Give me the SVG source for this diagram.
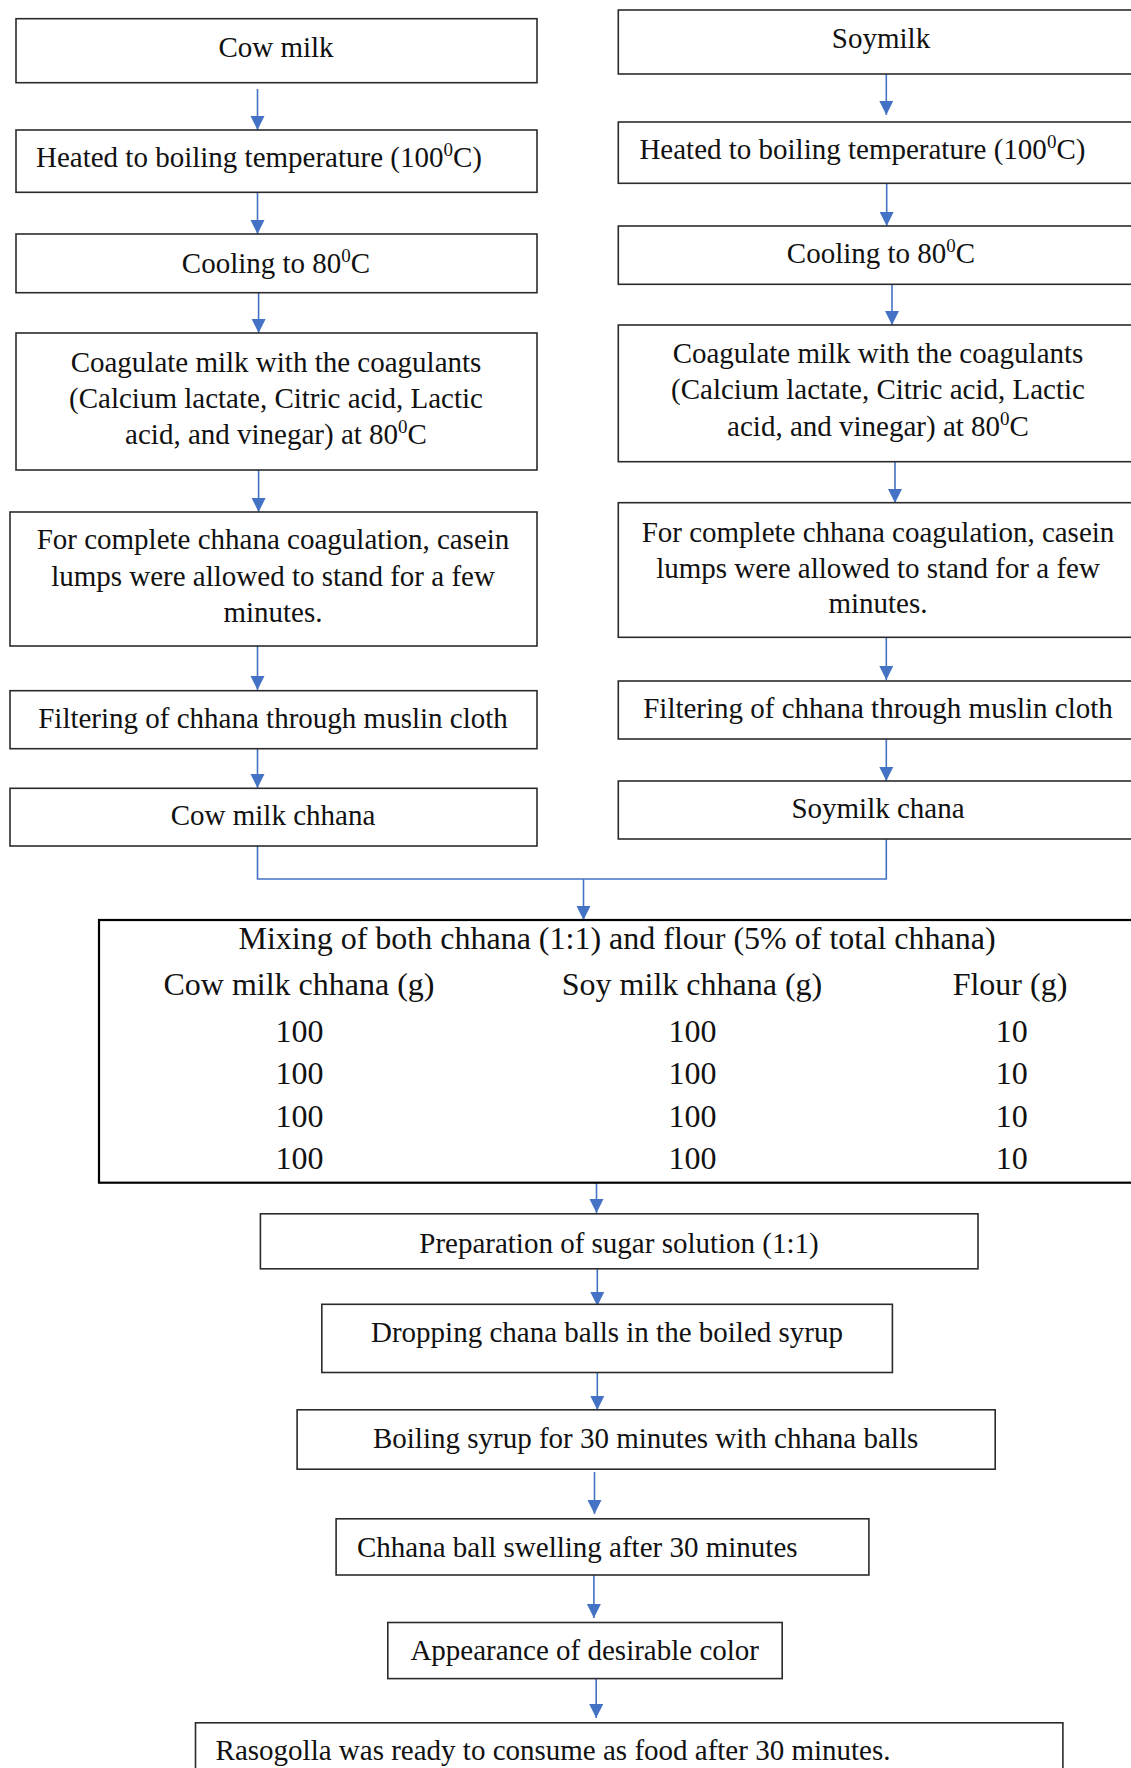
<svg xmlns="http://www.w3.org/2000/svg" width="1131" height="1768" viewBox="0 0 1131 1768">
<style>
.box{fill:#fff;stroke:#2b2b2b;stroke-width:1.6}
.tbl{fill:#fff;stroke:#000;stroke-width:2.2}
text{font-family:"Liberation Serif","Times New Roman",serif;font-size:29px;fill:#111}
.c{text-anchor:middle}
.t32{font-size:32px}
.con{fill:none;stroke:#4472C4;stroke-width:1.6}
</style>
<defs>
<marker id="ah" markerUnits="userSpaceOnUse" markerWidth="16" markerHeight="16" refX="14" refY="7" orient="auto">
<path d="M0,0 L14,7 L0,14 z" fill="#4472C4"/>
</marker>
</defs>
<rect width="1131" height="1768" fill="#fff"/>

<g id="connectors">
<line class="con" x1="257.5" y1="89" x2="257.5" y2="130" marker-end="url(#ah)"/>
<line class="con" x1="257.5" y1="192" x2="257.5" y2="234" marker-end="url(#ah)"/>
<line class="con" x1="258.6" y1="293" x2="258.6" y2="333" marker-end="url(#ah)"/>
<line class="con" x1="258.6" y1="470" x2="258.6" y2="512" marker-end="url(#ah)"/>
<line class="con" x1="257.5" y1="646" x2="257.5" y2="690" marker-end="url(#ah)"/>
<line class="con" x1="257.5" y1="749" x2="257.5" y2="788" marker-end="url(#ah)"/>
<line class="con" x1="886.3" y1="74" x2="886.3" y2="115" marker-end="url(#ah)"/>
<line class="con" x1="886.7" y1="183" x2="886.7" y2="226" marker-end="url(#ah)"/>
<line class="con" x1="892" y1="284" x2="892" y2="325" marker-end="url(#ah)"/>
<line class="con" x1="895" y1="462" x2="895" y2="503" marker-end="url(#ah)"/>
<line class="con" x1="886.3" y1="637" x2="886.3" y2="680" marker-end="url(#ah)"/>
<line class="con" x1="886.3" y1="739" x2="886.3" y2="781" marker-end="url(#ah)"/>
<polyline class="con" points="257.5,846 257.5,879 886.3,879 886.3,839"/>
<line class="con" x1="583.5" y1="879" x2="583.5" y2="920" marker-end="url(#ah)"/>
<line class="con" x1="596.5" y1="1171" x2="596.5" y2="1213" marker-end="url(#ah)"/>
<line class="con" x1="597.3" y1="1269" x2="597.3" y2="1306" marker-end="url(#ah)"/>
<line class="con" x1="597.3" y1="1368" x2="597.3" y2="1410" marker-end="url(#ah)"/>
<line class="con" x1="594.5" y1="1472" x2="594.5" y2="1514" marker-end="url(#ah)"/>
<line class="con" x1="593.9" y1="1575" x2="593.9" y2="1618" marker-end="url(#ah)"/>
<line class="con" x1="596.2" y1="1679" x2="596.2" y2="1718" marker-end="url(#ah)"/>
</g>

<g id="cow-milk"><rect class="box" x="16" y="18.7" width="521" height="64"/><text class="c" x="276" y="57">Cow milk</text></g>
<g id="cow-heated"><rect class="box" x="16" y="130" width="521" height="62.3"/><text x="36" y="166.7">Heated to boiling temperature (100<tspan dy="-11" font-size="19">0</tspan><tspan dy="11">C)</tspan></text></g>
<g id="cow-cooling"><rect class="box" x="16" y="234" width="521" height="58.7"/><text class="c" x="276" y="272.7">Cooling to 80<tspan dy="-11" font-size="19">0</tspan><tspan dy="11">C</tspan></text></g>
<g id="cow-coagulate"><rect class="box" x="16" y="333" width="521" height="137"/>
<text class="c" x="276" y="371.7">Coagulate milk with the coagulants</text>
<text class="c" x="276" y="408.3">(Calcium lactate, Citric acid, Lactic</text>
<text class="c" x="276" y="444">acid, and vinegar) at 80<tspan dy="-11" font-size="19">0</tspan><tspan dy="11">C</tspan></text></g>
<g id="cow-stand"><rect class="box" x="10" y="512" width="527" height="134"/>
<text class="c" x="273" y="549.3">For complete chhana coagulation, casein</text>
<text class="c" x="273" y="586">lumps were allowed to stand for a few</text>
<text class="c" x="273" y="621.7">minutes.</text></g>
<g id="cow-filter"><rect class="box" x="10" y="690.7" width="527" height="58"/><text class="c" x="273" y="728.3">Filtering of chhana through muslin cloth</text></g>
<g id="cow-chhana"><rect class="box" x="10" y="788.3" width="527" height="57.7"/><text class="c" x="273" y="825">Cow milk chhana</text></g>

<g id="soymilk"><rect class="box" x="618.3" y="10" width="530" height="64"/><text class="c" x="881" y="48.3">Soymilk</text></g>
<g id="soy-heated"><rect class="box" x="618.3" y="122" width="530" height="61.3"/><text x="639.4" y="159.3">Heated to boiling temperature (100<tspan dy="-11" font-size="19">0</tspan><tspan dy="11">C)</tspan></text></g>
<g id="soy-cooling"><rect class="box" x="618.3" y="226" width="530" height="58.3"/><text class="c" x="881" y="263.3">Cooling to 80<tspan dy="-11" font-size="19">0</tspan><tspan dy="11">C</tspan></text></g>
<g id="soy-coagulate"><rect class="box" x="618.3" y="325" width="530" height="136.7"/>
<text class="c" x="878" y="362.7">Coagulate milk with the coagulants</text>
<text class="c" x="878" y="399.3">(Calcium lactate, Citric acid, Lactic</text>
<text class="c" x="878" y="436">acid, and vinegar) at 80<tspan dy="-11" font-size="19">0</tspan><tspan dy="11">C</tspan></text></g>
<g id="soy-stand"><rect class="box" x="618.3" y="502.7" width="530" height="134.6"/>
<text class="c" x="878" y="541.7">For complete chhana coagulation, casein</text>
<text class="c" x="878" y="578.3">lumps were allowed to stand for a few</text>
<text class="c" x="878" y="613.3">minutes.</text></g>
<g id="soy-filter"><rect class="box" x="618.3" y="681" width="530" height="58"/><text class="c" x="878" y="718.3">Filtering of chhana through muslin cloth</text></g>
<g id="soy-chhana"><rect class="box" x="618.3" y="781" width="530" height="58"/><text class="c" x="878" y="818.3">Soymilk chana</text></g>

<g id="mixing"><rect class="tbl" x="99" y="920" width="1060" height="262.7"/>
<text class="c t32" x="617" y="949.3">Mixing of both chhana (1:1) and flour (5% of total chhana)</text>
<text class="c t32" x="299" y="995">Cow milk chhana (g)</text>
<text class="c t32" x="692" y="995">Soy milk chhana (g)</text>
<text class="c t32" x="1010" y="995">Flour (g)</text>
<text class="c t32" x="299.5" y="1041.7">100</text><text class="c t32" x="692.6" y="1041.7">100</text><text class="c t32" x="1011.7" y="1041.7">10</text>
<text class="c t32" x="299.5" y="1084.3">100</text><text class="c t32" x="692.6" y="1084.3">100</text><text class="c t32" x="1011.7" y="1084.3">10</text>
<text class="c t32" x="299.5" y="1126.7">100</text><text class="c t32" x="692.6" y="1126.7">100</text><text class="c t32" x="1011.7" y="1126.7">10</text>
<text class="c t32" x="299.5" y="1169.3">100</text><text class="c t32" x="692.6" y="1169.3">100</text><text class="c t32" x="1011.7" y="1169.3">10</text>
</g>

<g id="sugar"><rect class="box" x="260.4" y="1213.8" width="717.6" height="55"/><text class="c" x="619" y="1252.5">Preparation of sugar solution (1:1)</text></g>
<g id="dropping"><rect class="box" x="321.8" y="1304.3" width="570.6" height="68.2"/><text class="c" x="607" y="1342">Dropping chana balls in the boiled syrup</text></g>
<g id="boiling"><rect class="box" x="297.1" y="1409.8" width="698.1" height="59.4"/><text class="c" x="645.6" y="1448.2">Boiling syrup for 30 minutes with chhana balls</text></g>
<g id="swelling"><rect class="box" x="336.1" y="1518.8" width="532.8" height="56.2"/><text x="357" y="1556.9">Chhana ball swelling after 30 minutes</text></g>
<g id="color"><rect class="box" x="387.8" y="1622.5" width="394.4" height="56.1"/><text class="c" x="584.7" y="1660">Appearance of desirable color</text></g>
<g id="ready"><rect class="box" x="195.5" y="1722.8" width="867.4" height="70"/><text x="215.6" y="1759.8">Rasogolla was ready to consume as food after 30 minutes.</text></g>
</svg>
